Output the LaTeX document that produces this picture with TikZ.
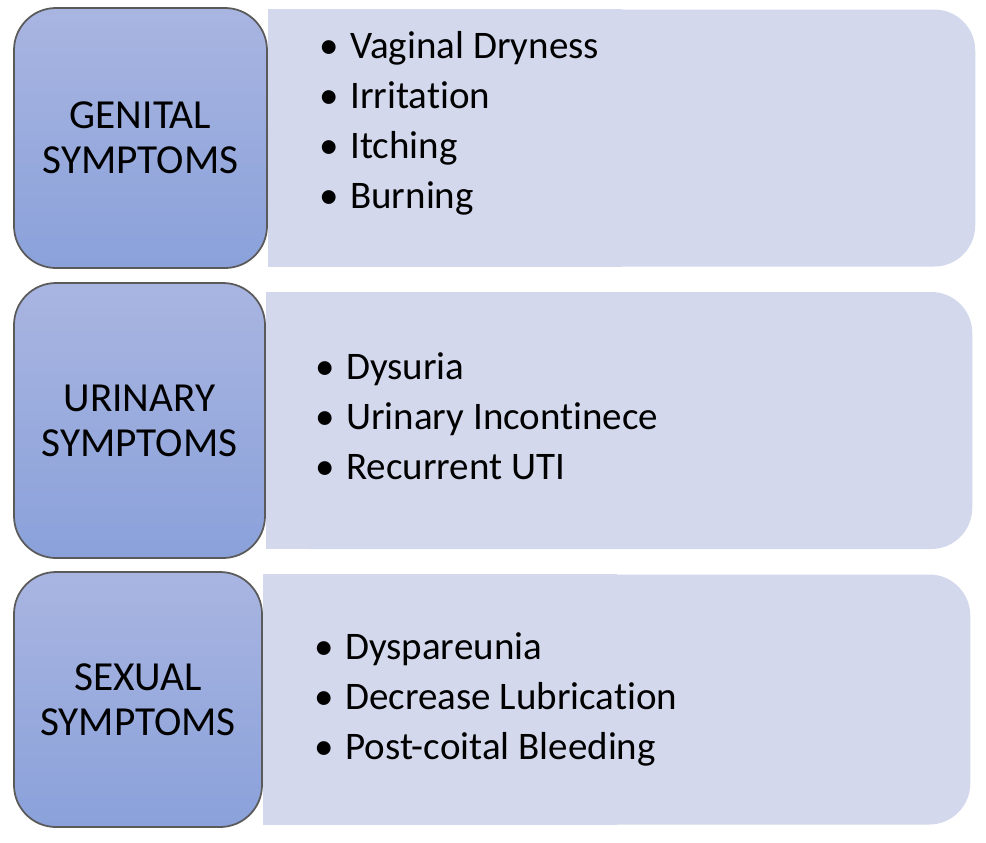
\documentclass[tikz,border=0pt]{standalone}
\usepackage{fontspec}
\setmainfont{Carlito}[RawFeature={-liga;-clig;-dlig;-calt}]
\usetikzlibrary{positioning,backgrounds}

\definecolor{grouptop}{RGB}{169,181,225}
\definecolor{groupbottom}{RGB}{138,161,218}
\definecolor{groupedge}{RGB}{90,90,90}
\definecolor{listfill}{RGB}{211,216,236}

\begin{document}
\begin{tikzpicture}
    [
        x=0.2mm, y=-0.2mm,
        group node/.style={rectangle, rounded corners=8.4mm, draw=groupedge, line width=1pt,
            top color=grouptop, bottom color=groupbottom, inner sep=0pt, align=center,
            font=\fontsize{23.5pt}{25.6pt}\selectfont},
        list node/.style={rectangle, rounded corners=8.2mm, fill=listfill, inner sep=0pt},
        item list/.style={inner sep=0pt, align=left, anchor=west,
            font=\fontsize{22.2pt}{28.45pt}\selectfont}
    ]
    \useasboundingbox (0,0) rectangle (986,842);

    \newcommand{\itm}[1]{\makebox[6.2mm][l]{\textbullet}#1}

    \node [group node, minimum width=50.6mm, minimum height=52mm] (genital) at (140.5, 138) {GENITAL\\SYMPTOMS};
    \node [group node, minimum width=50.2mm, minimum height=55mm] (urinary) at (139.5, 420.5) {URINARY\\SYMPTOMS};
    \node [group node, minimum width=49.6mm, minimum height=51mm] (sexual) at (138, 699.5) {SEXUAL\\SYMPTOMS};

    \begin{scope}[on background layer]
        \node [list node, minimum width=141.4mm, minimum height=51.4mm, right=0pt of genital] (genitallist) {};
        \node [list node, minimum width=141.2mm, minimum height=51.4mm, right=0pt of urinary] (urinarylist) {};
        \node [list node, minimum width=141.4mm, minimum height=50mm, right=0pt of sexual] (sexuallist) {};
        \fill [listfill] (genitallist.south west) rectangle (genitallist.north);
        \fill [listfill] (urinarylist.south west) rectangle (urinarylist.north);
        \fill [listfill] (sexuallist.south west) rectangle (sexuallist.north);
    \end{scope}

    \node [item list] (genitalitems) at ([xshift=10.2mm, yshift=3mm]genitallist.west)
        {\itm{Vaginal Dryness}\\\itm{Irritation}\\\itm{Itching}\\\itm{Burning}};
    \node [item list] (urinaryitems) at ([xshift=9.8mm, yshift=0.8mm]urinarylist.west)
        {\itm{Dysuria}\\\itm{Urinary Incontinece}\\\itm{Recurrent UTI}};
    \node [item list] (sexualitems) at ([xshift=10.2mm]sexuallist.west)
        {\itm{Dyspareunia}\\\itm{Decrease Lubrication}\\\itm{Post-coital Bleeding}};
\end{tikzpicture}
\end{document}
